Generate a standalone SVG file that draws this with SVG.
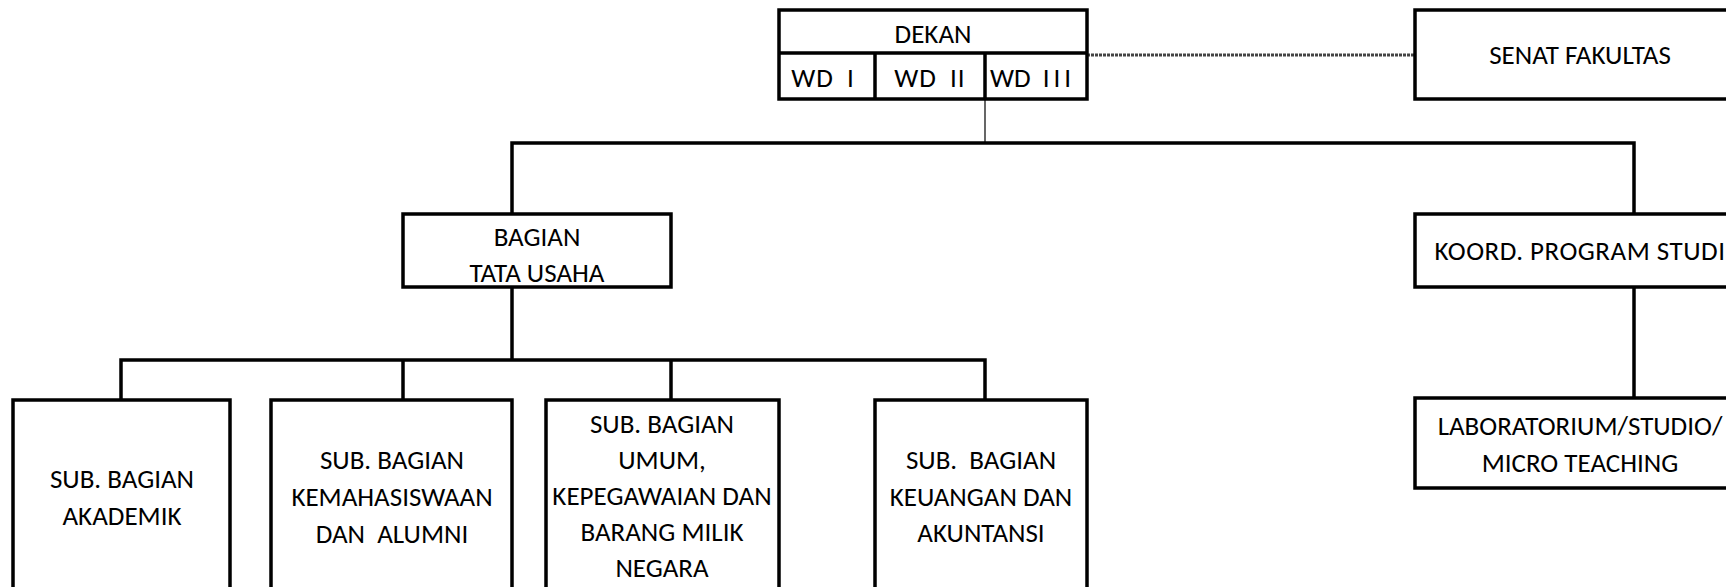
<svg xmlns="http://www.w3.org/2000/svg" width="1726" height="587" viewBox="0 0 1726 587">
<style>
.box{fill:#fff;stroke:#000;stroke-width:3.5}
.ln{fill:none;stroke:#000;stroke-width:3.5}
.thin{fill:none;stroke:#000;stroke-width:1.2}
.dash{fill:none;stroke:#444;stroke-width:3;stroke-dasharray:3 1}
text{font-family:Carlito,Calibri,Lato,"Open Sans",sans-serif;font-size:27px;fill:#000;text-anchor:middle}
.wd{word-spacing:6px;letter-spacing:1px}
</style>
<rect width="1726" height="587" fill="#fff"/>
<g id="connectors">
<path class="dash" d="M1087 55H1415"/>
<path class="thin" d="M985 99V143"/>
<path class="ln" d="M512 214V143H1634V214"/>
<path class="ln" d="M512 287V360"/>
<path class="ln" d="M121 400V360H985V400"/>
<path class="ln" d="M403 360V400"/>
<path class="ln" d="M671 360V400"/>
<path class="ln" d="M1634 287V398"/>
</g>
<g id="dekan">
<rect class="box" x="779" y="10" width="308" height="89"/>
<path class="ln" d="M779 53H1087M875 53V99M985 53V99"/>
<text x="933" y="43">DEKAN</text>
<text class="wd" x="823" y="87">WD I</text>
<text class="wd" x="930" y="87">WD II</text>
<text x="990" y="87" style="text-anchor:start">WD<tspan dx="12" style="letter-spacing:4px">III</tspan></text>
</g>
<g id="senat">
<rect class="box" x="1415" y="10" width="340" height="89"/>
<text x="1580" y="64">SENAT FAKULTAS</text>
</g>
<g id="bagian-tu">
<rect class="box" x="403" y="214" width="268" height="73"/>
<text x="537" y="246">BAGIAN</text>
<text x="537" y="282">TATA USAHA</text>
</g>
<g id="koord">
<rect class="box" x="1415" y="214" width="340" height="73"/>
<text x="1580" y="260" style="letter-spacing:0.5px">KOORD. PROGRAM STUDI</text>
</g>
<g id="lab">
<rect class="box" x="1415" y="398" width="340" height="90"/>
<text x="1580" y="435">LABORATORIUM/STUDIO/</text>
<text x="1580" y="472">MICRO TEACHING</text>
</g>
<g id="akademik">
<rect class="box" x="13" y="400" width="217" height="200"/>
<text x="122" y="488">SUB. BAGIAN</text>
<text x="122" y="525">AKADEMIK</text>
</g>
<g id="kemahasiswaan">
<rect class="box" x="271" y="400" width="241" height="200"/>
<text x="392" y="469">SUB. BAGIAN</text>
<text x="392" y="506">KEMAHASISWAAN</text>
<text x="392" y="543" xml:space="preserve">DAN  ALUMNI</text>
</g>
<g id="umum">
<rect class="box" x="546" y="400" width="233" height="200"/>
<text x="662" y="433">SUB. BAGIAN</text>
<text x="662" y="469">UMUM,</text>
<text x="662" y="505">KEPEGAWAIAN DAN</text>
<text x="662" y="541">BARANG MILIK</text>
<text x="662" y="577">NEGARA</text>
</g>
<g id="keuangan">
<rect class="box" x="875" y="400" width="212" height="200"/>
<text x="981" y="469" xml:space="preserve">SUB.  BAGIAN</text>
<text x="981" y="506">KEUANGAN DAN</text>
<text x="981" y="542">AKUNTANSI</text>
</g>
</svg>
